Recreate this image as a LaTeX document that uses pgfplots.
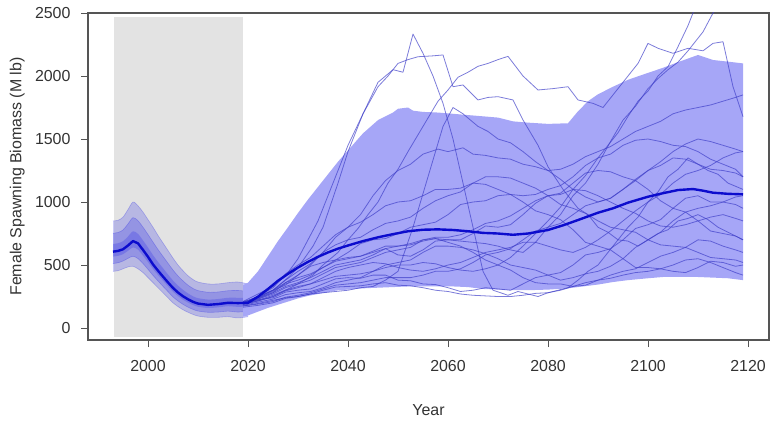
\documentclass[border=0pt]{standalone}
\usepackage{fontspec}
\setmainfont{Liberation Sans}
\usepackage{pgfplots}
\pgfplotsset{compat=1.18}
\usepgfplotslibrary{fillbetween}
\definecolor{shade}{RGB}{227,227,227}
\definecolor{bandc}{RGB}{166,166,247}
\definecolor{linec}{RGB}{62,62,200}
\definecolor{medc}{RGB}{12,12,205}
\definecolor{histc}{RGB}{70,70,230}
\definecolor{framec}{RGB}{85,85,85}
\begin{document}
\begin{tikzpicture}
\begin{axis}[
  at={(0,0)}, anchor=south west, scale only axis,
  width=681bp, height=327bp,
  xmin=1988, xmax=2124.2, ymin=-95, ymax=2500,
  xtick={2000,2020,2040,2060,2080,2100,2120},
  ytick={0,500,1000,1500,2000,2500},
  axis line style={framec, line width=1.1bp},
  tick style={framec, line width=0.9bp},
  tick align=outside, major tick length=7bp, tick pos=left,
  ticklabel style={font=\fontsize{16}{19}\selectfont, text=black!80},
  /pgf/number format/1000 sep={}, /pgf/number format/assume math mode=true,
  yticklabel style={xshift=-7bp}, xticklabel style={yshift=-10bp},
  xlabel={Year}, ylabel={Female Spawning Biomass (M lb)},
  label style={font=\fontsize{16}{19}\selectfont, text=black!80},
  xlabel style={at={(axis description cs:0.5,-0.214)}, anchor=center},
  ylabel style={at={(axis description cs:-0.104,0.5)}, anchor=center},
  fill between/on layer=main,
]
% assessment period shading
\addplot[fill=shade, draw=none] coordinates {(1993.2,-69) (2019,-69) (2019,2470) (1993.2,2470)} -- cycle;

% historical bands
\addplot[name path=hou, draw=histc, draw opacity=0.35, line width=0.6bp, smooth] coordinates {(1993,850) (1994,855) (1995,880) (1996,940) (1997,1000) (1998,970) (1999,920) (2000,860) (2001,800) (2002,735) (2003,675) (2004,615) (2005,555) (2006,500) (2007,455) (2008,415) (2009,385) (2010,365) (2012,350) (2014,350) (2016,360) (2018,365) (2020,350)};
\addplot[name path=hol, draw=histc, draw opacity=0.35, line width=0.6bp, smooth] coordinates {(1993,450) (1994,455) (1995,470) (1996,485) (1997,490) (1998,470) (1999,440) (2000,400) (2001,360) (2002,320) (2003,280) (2004,240) (2005,200) (2006,170) (2007,145) (2008,125) (2009,108) (2010,95) (2012,85) (2014,85) (2016,90) (2018,80) (2020,90)};
\addplot[fill=histc, fill opacity=0.28, draw=none] fill between[of=hou and hol];
\addplot[name path=hmu, draw=histc, draw opacity=0.4, line width=0.6bp, smooth] coordinates {(1993,752) (1994,758) (1995,778) (1996,826) (1997,876) (1998,851) (1999,800) (2000,742) (2001,682) (2002,623) (2003,568) (2004,514) (2005,460) (2006,413) (2007,374) (2008,340) (2009,314) (2010,297) (2012,284) (2014,286) (2016,296) (2018,298) (2020,290)};
\addplot[name path=hml, draw=histc, draw opacity=0.4, line width=0.6bp, smooth] coordinates {(1993,512) (1994,518) (1995,532) (1996,553) (1997,570) (1998,551) (1999,512) (2000,466) (2001,418) (2002,374) (2003,331) (2004,289) (2005,247) (2006,215) (2007,188) (2008,166) (2009,148) (2010,135) (2012,125) (2014,127) (2016,134) (2018,127) (2020,134)};
\addplot[fill=histc, fill opacity=0.3, draw=none] fill between[of=hmu and hml];
\addplot[name path=hiu, draw=none, smooth] coordinates {(1993,667) (1994,673) (1995,689) (1996,726) (1997,768) (1998,747) (1999,695) (2000,639) (2001,579) (2002,525) (2003,475) (2004,425) (2005,377) (2006,337) (2007,303) (2008,275) (2009,252) (2010,237) (2012,226) (2014,230) (2016,240) (2018,240) (2020,238)};
\addplot[name path=hil, draw=none, smooth] coordinates {(1993,567) (1994,573) (1995,586) (1996,613) (1997,640) (1998,622) (1999,575) (2000,524) (2001,469) (2002,421) (2003,376) (2004,332) (2005,289) (2006,254) (2007,225) (2008,202) (2009,183) (2010,169) (2012,159) (2014,164) (2016,173) (2018,168) (2020,172)};
\addplot[fill=histc, fill opacity=0.35, draw=none] fill between[of=hiu and hil];

% projection band
\addplot[name path=pu, draw=none] coordinates {(2019,340) (2020,360) (2022,450) (2024,570) (2026,690) (2028,800) (2030,913) (2032,1020) (2034,1120) (2036,1220) (2038,1320) (2040,1410) (2043,1545) (2046,1650) (2049,1710) (2050,1740) (2052,1750) (2053,1725) (2055,1715) (2058,1710) (2061,1700) (2064,1690) (2067,1680) (2070,1670) (2073,1640) (2076,1630) (2080,1620) (2084,1625) (2086,1720) (2088,1800) (2090,1855) (2093,1915) (2096,1970) (2100,2025) (2103,2065) (2106,2110) (2110,2167) (2113,2127) (2116,2114) (2119,2100)};
\addplot[name path=pl, draw=none] coordinates {(2019,90) (2020,100) (2022,130) (2024,160) (2026,185) (2028,210) (2030,235) (2032,255) (2034,270) (2036,285) (2038,300) (2040,305) (2043,315) (2046,320) (2049,325) (2052,330) (2055,330) (2058,330) (2061,330) (2064,325) (2067,310) (2070,305) (2073,300) (2076,300) (2080,305) (2084,315) (2086,325) (2088,335) (2090,345) (2093,365) (2096,380) (2100,395) (2103,405) (2106,405) (2110,405) (2113,400) (2116,395) (2119,380)};
\addplot[fill=bandc, draw=none] fill between[of=pu and pl];

% individual trajectories
\pgfplotsset{traj/.style={linec, draw opacity=0.68, line width=0.8bp, line join=round}}
\addplot[traj] coordinates {(2019,195) (2022,240) (2025,300) (2028,400) (2030,480) (2033,650) (2035,800) (2038,1150) (2040,1400) (2043,1700) (2046,1950) (2049,2050) (2051,2030) (2053,2333) (2055,2180) (2057,2000) (2059,1783) (2061,1500) (2063,1150) (2065,800) (2067,450) (2069,300) (2072,260) (2074,290) (2076,270) (2078,250) (2080,280) (2082,300) (2084,320) (2086,380) (2088,450) (2090,500) (2092,600) (2094,700) (2096,800) (2098,880) (2100,1000) (2102,1080) (2104,1200) (2106,1260) (2108,1350) (2110,1300) (2112,1250) (2114,1220) (2116,1150) (2119,1100)};
\addplot[traj] coordinates {(2019,200) (2022,250) (2025,320) (2028,440) (2030,550) (2034,850) (2037,1150) (2040,1450) (2043,1700) (2046,1915) (2048,2000) (2050,2100) (2052,2130) (2054,2153) (2057,2160) (2059,2167) (2061,1915) (2063,1929) (2066,1810) (2068,1830) (2070,1836) (2073,1810) (2075,1651) (2078,1450) (2080,1280) (2083,1100) (2086,950) (2088,900) (2090,800) (2092,760) (2094,700) (2096,690) (2098,650) (2100,700) (2102,750) (2104,780) (2106,850) (2108,870) (2110,900) (2112,860) (2114,800) (2116,760) (2119,700)};
\addplot[traj] coordinates {(2019,190) (2022,220) (2025,260) (2028,310) (2030,350) (2033,420) (2035,500) (2038,600) (2040,700) (2042,790) (2044,900) (2046,1000) (2048,1150) (2050,1260) (2052,1400) (2055,1600) (2058,1800) (2060,1889) (2062,1990) (2064,2030) (2066,2077) (2068,2100) (2070,2130) (2072,2156) (2075,2000) (2078,1889) (2081,1900) (2084,1915) (2086,1810) (2089,1783) (2091,1750) (2093,1850) (2095,1950) (2098,2100) (2100,2259) (2102,2220) (2105,2180) (2108,2220) (2111,2200) (2113,2259) (2115,2272) (2117,1915) (2119,1677)};
\addplot[traj] coordinates {(2019,185) (2022,215) (2025,250) (2027.5,300) (2030,330) (2032.5,350) (2035,380) (2037.5,410) (2040,420) (2042.5,430) (2045,450) (2047.5,480) (2050,500) (2052.5,500) (2055,520) (2057.5,510) (2060,480) (2062.5,460) (2065,450) (2067.5,470) (2070,500) (2072.5,560) (2075,650) (2077.5,750) (2080,850) (2082.5,960) (2085,1100) (2087.5,1210) (2090,1350) (2092,1450) (2094,1550) (2096,1680) (2098,1800) (2100,1880) (2102,2000) (2104,2074) (2106,2233) (2108,2400) (2110,2600)};
\addplot[traj] coordinates {(2019,200) (2022,250) (2025,300) (2027.5,360) (2030,400) (2032.5,430) (2035,480) (2037.5,530) (2040,550) (2042.5,570) (2045,610) (2047.5,650) (2050,650) (2052.5,660) (2055,690) (2057.5,710) (2060,700) (2062.5,690) (2065,680) (2067.5,670) (2070,650) (2072.5,620) (2075,600) (2077.5,680) (2080,800) (2082.5,900) (2085,1050) (2087.5,1150) (2090,1300) (2092.5,1480) (2095,1650) (2097.5,1760) (2100,1900) (2102,1980) (2104,2050) (2106,2110) (2108,2200) (2111,2350) (2113,2500) (2115,2600)};
\addplot[traj] coordinates {(2019,190) (2022,230) (2025,280) (2027.5,360) (2030,420) (2032.5,500) (2035,600) (2037.5,720) (2040,800) (2042.5,900) (2045,1050) (2047.5,1170) (2050,1250) (2052.5,1300) (2055,1380) (2058,1420) (2060,1400) (2063,1430) (2065,1380) (2067.5,1370) (2070,1350) (2072.5,1340) (2075,1300) (2077.5,1280) (2080,1250) (2082.5,1260) (2085,1300) (2087.5,1360) (2090,1400) (2092.5,1440) (2095,1500) (2097.5,1560) (2100,1600) (2102.5,1640) (2105,1700) (2107.5,1730) (2110,1750) (2112.5,1770) (2115,1800) (2117.5,1830) (2119,1850)};
\addplot[traj] coordinates {(2019,175) (2022,195) (2025,220) (2027.5,240) (2030,250) (2032.5,270) (2035,280) (2037.5,290) (2040,300) (2042.5,320) (2045,330) (2047.5,380) (2050,450) (2053,800) (2056,1200) (2059,1600) (2061,1750) (2063,1700) (2066,1600) (2068,1560) (2070,1500) (2072.5,1470) (2075,1400) (2077.5,1320) (2080,1250) (2082.5,1180) (2085,1100) (2087.5,1040) (2090,1000) (2092.5,1030) (2095,1100) (2097.5,1170) (2100,1250) (2102.5,1320) (2105,1400) (2107.5,1460) (2110,1500) (2112.5,1480) (2115,1450) (2117.5,1420) (2119,1400)};
\addplot[traj] coordinates {(2019,190) (2022,225) (2025,240) (2027.5,285) (2030,300) (2032.5,310) (2035,350) (2037.5,390) (2040,400) (2042.5,395) (2045,420) (2047.5,420) (2050,380) (2052.5,375) (2055,350) (2057.5,345) (2060,320) (2062.5,290) (2065,300) (2067.5,320) (2070,310) (2072.5,300) (2075,350) (2077.5,400) (2080,420) (2082.5,440) (2085,500) (2087.5,580) (2090,600) (2092.5,630) (2095,700) (2097.5,790) (2100,820) (2102.5,860) (2105,950) (2107.5,1030) (2110,1050) (2112.5,1000) (2115,1000) (2117.5,980) (2119,950)};
\addplot[traj] coordinates {(2019,205) (2022,240) (2025,300) (2027.5,340) (2030,420) (2032.5,490) (2035,520) (2037.5,540) (2040,600) (2042.5,670) (2045,700) (2047.5,710) (2050,750) (2052.5,800) (2055,820) (2057.5,840) (2060,900) (2062.5,980) (2065,1000) (2067.5,1010) (2070,1050) (2072.5,1060) (2075,1000) (2077.5,930) (2080,900) (2082.5,860) (2085,780) (2087.5,680) (2090,650) (2092.5,620) (2095,550) (2097.5,480) (2100,480) (2102.5,470) (2105,450) (2107.5,440) (2110,480) (2112.5,530) (2115,520) (2117.5,490) (2119,500)};
\addplot[traj] coordinates {(2019,200) (2022,235) (2025,290) (2027.5,350) (2030,380) (2032.5,420) (2035,480) (2037.5,540) (2040,560) (2042.5,570) (2045,600) (2047.5,630) (2050,580) (2052.5,570) (2055,620) (2057.5,690) (2060,700) (2062.5,700) (2065,750) (2067.5,810) (2070,800) (2072.5,820) (2075,900) (2077.5,990) (2080,1050) (2082.5,1070) (2085,1150) (2087.5,1230) (2090,1250) (2092.5,1240) (2095,1200) (2097.5,1170) (2100,1100) (2102.5,1010) (2105,950) (2107.5,920) (2110,850) (2112.5,770) (2115,750) (2117.5,730) (2119,700)};
\addplot[traj] coordinates {(2019,180) (2022,205) (2025,230) (2027.5,265) (2030,280) (2032.5,290) (2035,320) (2037.5,360) (2040,380) (2042.5,400) (2045,450) (2047.5,500) (2050,520) (2052.5,540) (2055,600) (2057.5,650) (2060,650) (2062.5,640) (2065,620) (2067.5,590) (2070,550) (2072.5,500) (2075,480) (2077.5,460) (2080,420) (2082.5,380) (2085,400) (2087.5,430) (2090,450) (2092.5,490) (2095,550) (2097.5,640) (2100,700) (2102.5,760) (2105,850) (2107.5,920) (2110,950) (2112.5,970) (2115,1000) (2117.5,1040) (2119,1050)};
\addplot[traj] coordinates {(2019,210) (2022,270) (2025,330) (2027.5,430) (2030,500) (2032.5,560) (2035,650) (2037.5,740) (2040,800) (2042.5,840) (2045,900) (2047.5,970) (2050,1000) (2052.5,1010) (2055,1050) (2057.5,1100) (2060,1100) (2062.5,1110) (2065,1150) (2067.5,1140) (2070,1100) (2072.5,1060) (2075,1050) (2077.5,1060) (2080,1100) (2082.5,1130) (2085,1200) (2087.5,1290) (2090,1350) (2092.5,1380) (2095,1450) (2097.5,1490) (2100,1500) (2102.5,1480) (2105,1450) (2107.5,1440) (2110,1400) (2112.5,1340) (2115,1300) (2117.5,1260) (2119,1200)};
\addplot[traj] coordinates {(2019,200) (2022,230) (2025,270) (2027.5,320) (2030,350) (2032.5,380) (2035,430) (2037.5,480) (2040,500) (2042.5,520) (2045,560) (2047.5,600) (2050,620) (2052.5,640) (2055,700) (2057.5,710) (2060,680) (2062.5,650) (2065,600) (2067.5,540) (2070,500) (2072.5,460) (2075,400) (2077.5,360) (2080,350) (2082.5,350) (2085,330) (2087.5,340) (2090,380) (2092.5,420) (2095,450) (2097.5,470) (2100,520) (2102.5,570) (2105,600) (2107.5,640) (2110,700) (2112.5,690) (2115,650) (2117.5,620) (2119,600)};
\addplot[traj] coordinates {(2019,175) (2022,190) (2025,210) (2027.5,245) (2030,260) (2032.5,280) (2035,310) (2037.5,340) (2040,350) (2042.5,360) (2045,380) (2047.5,400) (2050,400) (2052.5,400) (2055,420) (2057.5,450) (2060,450) (2062.5,470) (2065,520) (2067.5,580) (2070,600) (2072.5,630) (2075,700) (2077.5,770) (2080,800) (2082.5,830) (2085,900) (2087.5,970) (2090,1000) (2092.5,1030) (2095,1100) (2097.5,1180) (2100,1250) (2102.5,1290) (2105,1350) (2107.5,1340) (2110,1300) (2112.5,1260) (2115,1250) (2117.5,1230) (2119,1200)};
\addplot[traj] coordinates {(2019,165) (2022,180) (2025,200) (2027.5,235) (2030,250) (2032.5,270) (2035,300) (2037.5,325) (2040,330) (2042.5,335) (2045,350) (2047.5,360) (2050,340) (2052.5,335) (2055,320) (2057.5,300) (2060,290) (2062.5,270) (2065,260) (2067.5,255) (2070,250) (2072.5,250) (2075,260) (2077.5,275) (2080,280) (2082.5,300) (2085,330) (2087.5,360) (2090,380) (2092.5,395) (2095,420) (2097.5,440) (2100,450) (2102.5,470) (2105,500) (2107.5,540) (2110,550) (2112.5,520) (2115,480) (2117.5,440) (2119,420)};
\addplot[traj] coordinates {(2019,200) (2022,250) (2025,300) (2027.5,380) (2030,450) (2032.5,510) (2035,600) (2037.5,660) (2040,700) (2042.5,720) (2045,780) (2047.5,830) (2050,850) (2052.5,880) (2055,950) (2057.5,1010) (2060,1050) (2062.5,1080) (2065,1150) (2067.5,1200) (2070,1200) (2072.5,1190) (2075,1150) (2077.5,1110) (2080,1050) (2082.5,980) (2085,950) (2087.5,910) (2090,850) (2092.5,800) (2095,780) (2097.5,760) (2100,700) (2102.5,660) (2105,650) (2107.5,640) (2110,600) (2112.5,560) (2115,550) (2117.5,540) (2119,520)};
\addplot[traj] coordinates {(2019,190) (2022,215) (2025,250) (2027.5,295) (2030,320) (2032.5,350) (2035,400) (2037.5,450) (2040,480) (2042.5,500) (2045,520) (2047.5,510) (2050,480) (2052.5,460) (2055,450) (2057.5,470) (2060,500) (2062.5,520) (2065,560) (2067.5,600) (2070,620) (2072.5,640) (2075,680) (2077.5,680) (2080,650) (2082.5,620) (2085,600) (2087.5,640) (2090,700) (2092.5,770) (2095,850) (2097.5,930) (2100,1000) (2102.5,1060) (2105,1150) (2107.5,1220) (2110,1250) (2112.5,1290) (2115,1350) (2117.5,1390) (2119,1400)};
\addplot[traj] coordinates {(2019,210) (2022,240) (2025,280) (2027.5,330) (2030,360) (2032.5,400) (2035,450) (2037.5,500) (2040,520) (2042.5,540) (2045,580) (2047.5,630) (2050,650) (2052.5,670) (2055,700) (2057.5,720) (2060,720) (2062.5,740) (2065,780) (2067.5,830) (2070,850) (2072.5,890) (2075,950) (2077.5,1010) (2080,1050) (2082.5,1060) (2085,1100) (2087.5,1090) (2090,1050) (2092.5,1000) (2095,950) (2097.5,910) (2100,850) (2102.5,810) (2105,800) (2107.5,820) (2110,850) (2112.5,880) (2115,900) (2117.5,870) (2119,850)};

% median
\addplot[medc, line width=2.4bp, line join=round] coordinates {(1993,606) (1994,612) (1995,625) (1996,655) (1997,690) (1998,672) (1999,620) (2000,565) (2001,505) (2002,455) (2003,408) (2004,362) (2005,318) (2006,282) (2007,252) (2008,228) (2009,208) (2010,194) (2012,184) (2014,190) (2016,200) (2018,198) (2020,200) (2022,249) (2024,310) (2026,375) (2028,430) (2030,480) (2032,525) (2034,565) (2036,600) (2038,630) (2040,655) (2043,690) (2046,720) (2049,745) (2052,768) (2055,780) (2058,783) (2061,778) (2064,768) (2067,755) (2070,750) (2073,740) (2076,750) (2080,778) (2083,815) (2086,857) (2090,915) (2093,950) (2096,995) (2100,1042) (2103,1070) (2106,1095) (2109,1103) (2111,1090) (2113,1074) (2116,1065) (2119,1061)};
\end{axis}
\pgfresetboundingbox
\path[use as bounding box] (-88bp,-82bp) rectangle (683bp,340bp);
\end{tikzpicture}
\end{document}
